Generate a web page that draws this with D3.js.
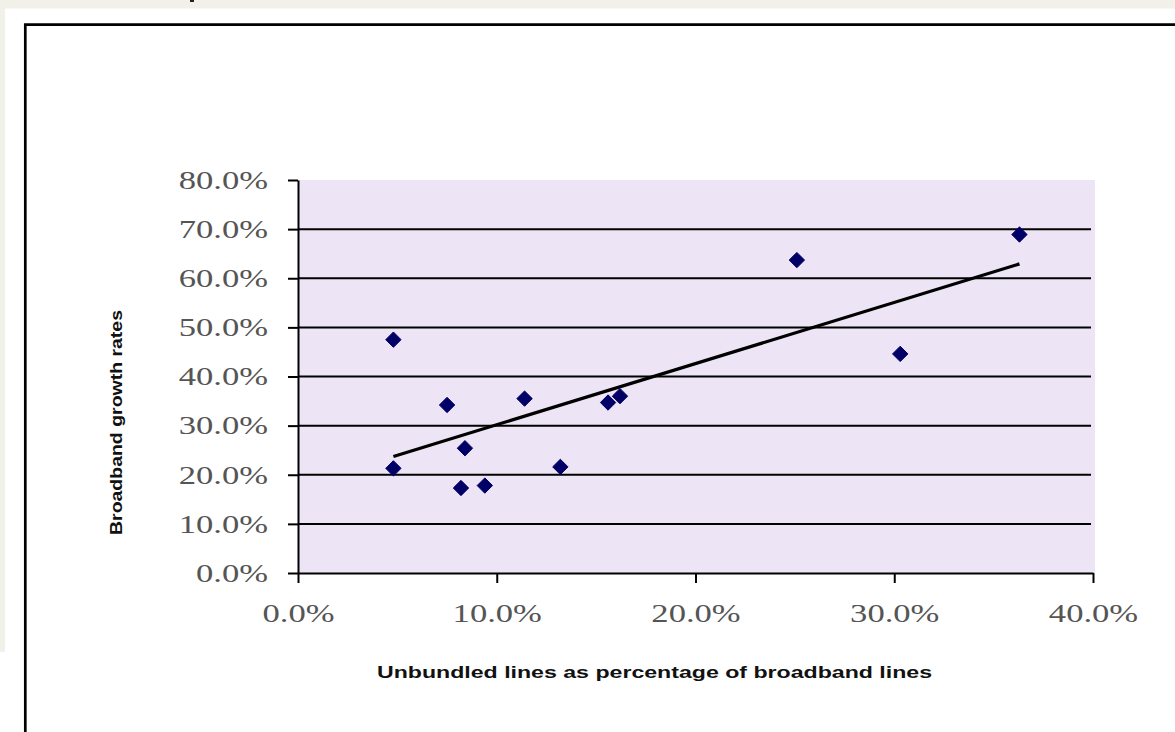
<!DOCTYPE html>
<html lang = "en">
   <head>
      <meta charset="utf-8">
      <script src = "https://cdn.jsdelivr.net/npm/d3@7"></script>
      <style>
         body { margin: 0; background: #ffffff; }
         svg { display: block; }
      </style>
   </head>

   <body>
      <script>
         // unbundled share (x) vs broadband growth (y)
         let unbundledShare = [0.048, 0.048, 0.075, 0.084, 0.082, 0.094, 0.114, 0.132, 0.156, 0.162, 0.251, 0.303, 0.363]
         let growthRate     = [0.475, 0.213, 0.342, 0.254, 0.173, 0.178, 0.355, 0.216, 0.347, 0.360, 0.637, 0.446, 0.689]

         let xTicks = [0, 0.1, 0.2, 0.3, 0.4]
         let yTicks = [0, 0.1, 0.2, 0.3, 0.4, 0.5, 0.6, 0.7, 0.8]
         let xTitle = 'Unbundled lines as percentage of broadband lines'
         let yTitle = 'Broadband growth rates'

         let w = 1175
         let h = 732
         // plot area edges in pixels
         let plotL = 298, plotR = 1093, plotT = 180, plotB = 573

         let dataset = unbundledShare.map(function(d, i) {
            return [d, growthRate[i]]
         })

         let svg = d3.select('body')
                     .append('svg')
                     .attr('width', w)
                     .attr('height', h)

         // page background with the beige margins and the black frame
         svg.append('rect').attr('width', w).attr('height', h).attr('fill', '#ffffff')
         svg.append('rect').attr('width', w).attr('height', 8.5).attr('fill', '#f1f0e9')
         svg.append('rect').attr('width', 5).attr('height', 652).attr('fill', '#f1f0e9')
         svg.append('rect').attr('x', 190).attr('y', 0).attr('width', 4).attr('height', 2).attr('fill', '#222')
         svg.append('path')
            .attr('d', 'M25.3,' + h + 'V24.6H' + w)
            .attr('fill', 'none')
            .attr('stroke', '#000')
            .attr('stroke-width', 2.7)

         let scaleX = d3.scaleLinear()
                        .domain([0, 0.4])
                        .range([plotL, plotR])

         let scaleY = d3.scaleLinear()
                        .domain([0, 0.8])
                        .range([plotB, plotT])

         // plot area
         svg.append('rect')
            .attr('x', plotL)
            .attr('y', plotT)
            .attr('width', 1095 - plotL)
            .attr('height', plotB - plotT)
            .attr('fill', '#ede5f5')

         // horizontal gridlines
         svg.selectAll('line.grid')
            .data(yTicks.filter(function(d) { return d > 0 && d < 0.8 }))
            .enter()
            .append('line')
            .classed('grid', true)
            .attr('x1', plotL)
            .attr('x2', 1091)
            .attr('y1', function(d) { return scaleY(d) })
            .attr('y2', function(d) { return scaleY(d) })
            .attr('stroke', '#000')
            .attr('stroke-width', 2)

         let pct = d3.format('.1%')

         svg.append('g')
            .attr('transform', 'translate(0,' + plotB + ')')
            .call(d3.axisBottom(scaleX).tickValues(xTicks).tickFormat(pct).tickSize(10).tickSizeOuter(0).tickPadding(21))

         svg.append('g')
            .attr('transform', 'translate(' + plotL + ',0)')
            .call(d3.axisLeft(scaleY).tickValues(yTicks).tickFormat(pct).tickSize(10).tickSizeOuter(0).tickPadding(20))

         svg.selectAll('.domain, .tick line')
            .attr('stroke', '#000')
            .attr('stroke-width', 2)

         // the tick labels are a wide, stretched serif
         svg.selectAll('.tick text')
            .attr('font-family', '"Liberation Serif", "Times New Roman", serif')
            .attr('font-size', 26)
            .attr('fill', '#555')
            .each(function() {
               let len = this.getComputedTextLength()
               d3.select(this)
                  .attr('textLength', len * 1.33)
                  .attr('lengthAdjust', 'spacingAndGlyphs')
            })

         // least squares trend line
         let mx = d3.mean(dataset, function(d) { return d[0] })
         let my = d3.mean(dataset, function(d) { return d[1] })
         let sxy = d3.sum(dataset, function(d) { return (d[0] - mx) * (d[1] - my) })
         let sxx = d3.sum(dataset, function(d) { return (d[0] - mx) * (d[0] - mx) })
         let slope = sxy / sxx
         let intercept = my - slope * mx
         let xExt = d3.extent(dataset, function(d) { return d[0] })

         svg.append('path')
            .datum(xExt.map(function(x) { return [x, intercept + slope * x] }))
            .attr('d', d3.line()
               .x(function(d) { return scaleX(d[0]) })
               .y(function(d) { return scaleY(d[1]) }))
            .attr('fill', 'none')
            .attr('stroke', '#000')
            .attr('stroke-width', 3.2)

         // square diamond marker, size is the area
         let squareDiamond = {
            draw: function(context, size) {
               let r = Math.sqrt(size / 2)
               context.moveTo(0, -r)
               context.lineTo(r, 0)
               context.lineTo(0, r)
               context.lineTo(-r, 0)
               context.closePath()
            }
         }

         let diamond = d3.symbol()
                         .type(squareDiamond)
                         .size(118)

         svg.selectAll('path.point')
            .data(dataset)
            .enter()
            .append('path')
            .classed('point', true)
            .attr('d', diamond)
            .attr('transform', function(d) {
               return 'translate(' + scaleX(d[0]) + ',' + scaleY(d[1]) + ')'
            })
            .attr('fill', '#000066')
            .attr('stroke', '#000066')
            .attr('stroke-width', 1)
            .attr('stroke-linejoin', 'round')

         // axis titles
         svg.append('text')
            .text(xTitle)
            .attr('x', 654.5)
            .attr('y', 678)
            .attr('text-anchor', 'middle')
            .attr('font-family', '"Liberation Sans", Arial, sans-serif')
            .attr('font-weight', 'bold')
            .attr('font-size', 16)
            .attr('textLength', 555)
            .attr('lengthAdjust', 'spacingAndGlyphs')
            .attr('fill', '#111')

         svg.append('text')
            .text(yTitle)
            .attr('transform', 'translate(122,422.5) rotate(-90)')
            .attr('text-anchor', 'middle')
            .attr('font-family', '"Liberation Sans", Arial, sans-serif')
            .attr('font-weight', 'bold')
            .attr('font-size', 17)
            .attr('textLength', 225)
            .attr('lengthAdjust', 'spacingAndGlyphs')
            .attr('fill', '#111')
      </script>
   </body>
</html>
